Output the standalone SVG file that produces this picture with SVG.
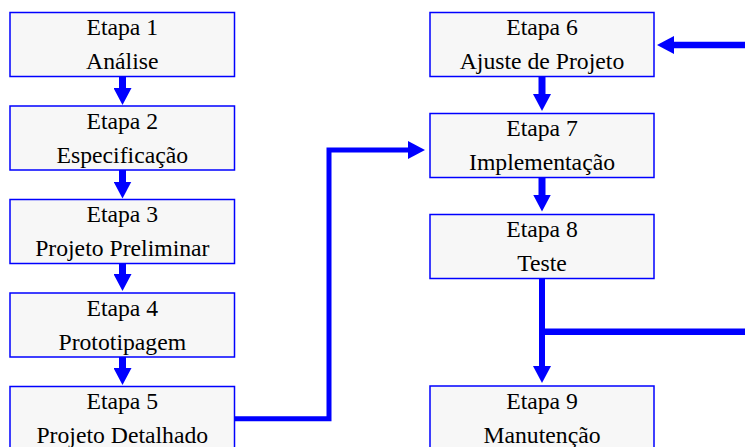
<svg xmlns="http://www.w3.org/2000/svg" width="745" height="447" viewBox="0 0 745 447">
<style>
.box{fill:#f7f7f7;stroke:#0000ff;stroke-width:1.5}
.t{font-family:"Liberation Serif","Times New Roman",serif;font-size:23.7px;fill:#000;text-anchor:middle}
.c{fill:none;stroke:#0000ff;stroke-linejoin:miter}
</style>
<defs>
<marker id="ah" markerUnits="userSpaceOnUse" markerWidth="18" markerHeight="18" viewBox="0 0 18 18" refX="1" refY="9" orient="auto">
<path d="M0,0 L17,9 L0,18 Z" fill="#0000ff"/>
</marker>
</defs>
<rect width="745" height="447" fill="#fff"/>
<g id="connectors">
<path class="c" stroke-width="7" d="M122.5,76.5 V89" marker-end="url(#ah)"/>
<path class="c" stroke-width="7" d="M122.5,170 V182.5" marker-end="url(#ah)"/>
<path class="c" stroke-width="7" d="M122.5,263.5 V275" marker-end="url(#ah)"/>
<path class="c" stroke-width="7" d="M122.5,357 V369" marker-end="url(#ah)"/>
<path class="c" stroke-width="5" d="M234.5,418.7 H329 V150 H409" marker-end="url(#ah)"/>
<path class="c" stroke-width="7" d="M542,76.5 V95" marker-end="url(#ah)"/>
<path class="c" stroke-width="7" d="M542,177.5 V195.5" marker-end="url(#ah)"/>
<path class="c" stroke-width="6" d="M542,278.5 V367" marker-end="url(#ah)"/>
<path class="c" stroke-width="6.5" d="M542,331.7 H760 V45 H673" marker-end="url(#ah)"/>
</g>
<g id="etapa1"><rect class="box" x="10" y="12.5" width="224.5" height="64"/><text class="t" x="122.3" y="35">Etapa 1</text><text class="t" x="122.3" y="69">Análise</text></g>
<g id="etapa2"><rect class="box" x="10" y="106" width="224.5" height="64"/><text class="t" x="122.3" y="128.5">Etapa 2</text><text class="t" x="122.3" y="162.5">Especificação</text></g>
<g id="etapa3"><rect class="box" x="10" y="199.5" width="224.5" height="64"/><text class="t" x="122.3" y="222">Etapa 3</text><text class="t" x="122.3" y="256">Projeto Preliminar</text></g>
<g id="etapa4"><rect class="box" x="10" y="293" width="224.5" height="64"/><text class="t" x="122.3" y="315.5">Etapa 4</text><text class="t" x="122.3" y="349.5">Prototipagem</text></g>
<g id="etapa5"><rect class="box" x="10" y="386.5" width="224.5" height="64"/><text class="t" x="122.3" y="409">Etapa 5</text><text class="t" x="122.3" y="443">Projeto Detalhado</text></g>
<g id="etapa6"><rect class="box" x="430" y="12.5" width="224" height="64"/><text class="t" x="542" y="35">Etapa 6</text><text class="t" x="542" y="69">Ajuste de Projeto</text></g>
<g id="etapa7"><rect class="box" x="430" y="113.5" width="224" height="64"/><text class="t" x="542" y="136">Etapa 7</text><text class="t" x="542" y="170">Implementação</text></g>
<g id="etapa8"><rect class="box" x="430" y="214.5" width="224" height="64"/><text class="t" x="542" y="237">Etapa 8</text><text class="t" x="542" y="271">Teste</text></g>
<g id="etapa9"><rect class="box" x="430" y="386" width="224" height="64"/><text class="t" x="542" y="408.5">Etapa 9</text><text class="t" x="542" y="442.5">Manutenção</text></g>
</svg>
